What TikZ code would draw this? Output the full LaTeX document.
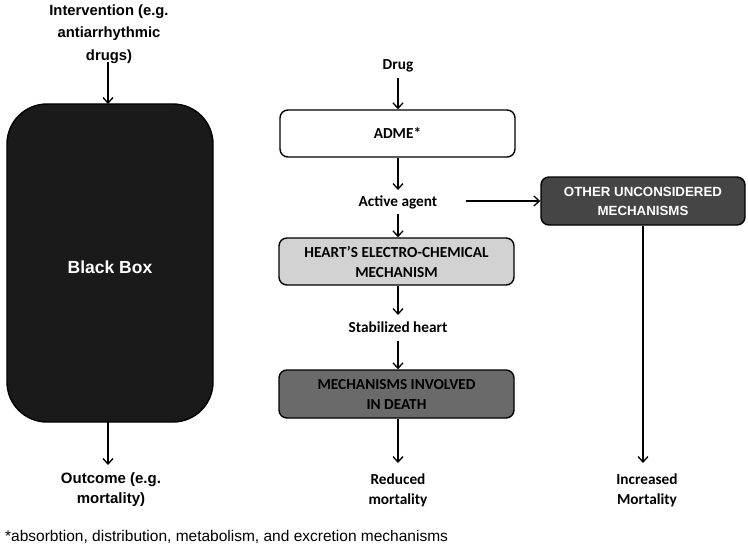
\documentclass[tikz,border=0pt]{standalone}
\usepackage{fontspec}
\setmainfont{Liberation Sans}
\newfontfamily\calib{Carlito}
\usetikzlibrary{arrows.meta}
\definecolor{blackbox}{HTML}{1A1A1A}
\definecolor{lightbox}{HTML}{D2D2D2}
\definecolor{midbox}{HTML}{6A6A6A}
\definecolor{darkbox}{HTML}{454545}
\begin{document}
\begin{tikzpicture}[x=1pt,y=-1pt,
  arr/.style={-{Straight Barb[length=5.5pt,width=10pt,line width=1.3pt]},line width=1.4pt},
  ltxt/.style={font=\fontsize{14.8}{22.5}\selectfont\bfseries,align=center,inner sep=1pt},
  cfont/.style={font=\calib\fontsize{15.3}{20}\selectfont\bfseries},
  ctxt/.style={cfont,align=center,inner sep=1pt},
  rbox/.style={draw,line width=1.4pt,rounded corners=8pt,inner sep=0pt}
]
\useasboundingbox (0,0) rectangle (748,551);
\coordinate (col) at (398,0);
% left column
\node[ltxt] (interv) at (109,34) {Intervention (e.g.\\antiarrhythmic\\drugs)};
\node[rbox,fill=blackbox,rounded corners=40pt,minimum width=206pt,minimum height=318pt] (bb) at (110,263) {};
\node[font=\fontsize{17.5}{20}\selectfont\bfseries,text=white] (bbt) at (110,267) {Black Box};
\node[ltxt,font=\fontsize{15}{20}\selectfont\bfseries] (outc) at (111,490) {Outcome (e.g.\\mortality)};
\coordinate (bbtop) at (108,104);
\coordinate (bbbot) at (108,422);
\draw[arr] (108,62) -- (bbtop);
\draw[arr] (bbbot) -- (108,465);
% middle column
\node[ctxt] (drug) at (398,66) {Drug};
\node[rbox,fill=white,minimum width=235pt,minimum height=47pt,cfont] (adme) at (397.5,133.5) {ADME*};
\node[ctxt] (active) at (398,202) {Active agent};
\node[rbox,fill=lightbox,minimum width=235pt,minimum height=47pt,cfont,align=center] (heart) at (396.5,261.5) {HEART’S ELECTRO-CHEMICAL\\MECHANISM};
\node[ctxt] (stab) at (398,327) {Stabilized heart};
\node[rbox,fill=midbox,minimum width=235pt,minimum height=48pt,cfont,align=center] (death) at (396.5,394) {MECHANISMS INVOLVED\\IN DEATH};
\node[ctxt] (reduced) at (398,490) {Reduced\\mortality};
% right column
\node[rbox,fill=darkbox,minimum width=204pt,minimum height=48pt,text=white,font=\fontsize{13.3}{19}\selectfont\bfseries,align=center] (other) at (643,201) {OTHER UNCONSIDERED\\MECHANISMS};
\node[ctxt] (incr) at (647,490) {Increased\\Mortality};
% connectors
\draw[arr] (398,78) -- (adme.north -| col);
\draw[arr] (adme.south -| col) -- (398,190);
\draw[arr] (398,214) -- (heart.north -| col);
\draw[arr] (heart.south -| col) -- (398,315);
\draw[arr] (398,341) -- (death.north -| col);
\draw[arr] (death.south -| col) -- (398,463);
\draw[arr] (466,201) -- (other.west);
\draw[arr] (other.south) -- (643,463);
% footnote
\node[anchor=west,font=\fontsize{15.5}{18}\selectfont,inner sep=0pt] (foot) at (5,537) {*absorbtion, distribution, metabolism, and excretion mechanisms};
\end{tikzpicture}
\end{document}
